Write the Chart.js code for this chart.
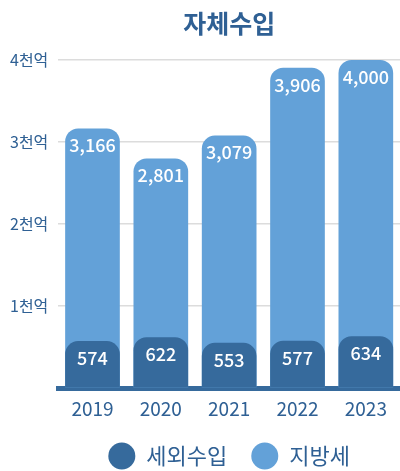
<!DOCTYPE html>
<html>
<head>
<meta charset="utf-8">
<script src="https://cdn.jsdelivr.net/npm/chart.js@4/dist/chart.umd.min.js"></script>
<style>
  html, body { margin: 0; padding: 0; background: #fff; }
  #wrap { width: 400px; height: 471px; position: relative; }
</style>
</head>
<body>
<div id="wrap"><canvas id="c"></canvas></div>
<script>
const categories = ['2019', '2020', '2021', '2022', '2023'];
const nonTaxRevenue = [574, 622, 553, 577, 634];     // 세외수입
const localTax = [3166, 2801, 3079, 3906, 4000];     // 지방세
const seriesNames = ['세외수입', '지방세'];
const yTicks = [1000, 2000, 3000, 4000];
const yTickLabels = ['1천억', '2천억', '3천억', '4천억'];
const titleText = '자체수입';

const FONT = "'Noto Sans CJK KR', 'Noto Sans', sans-serif";
const DARK = '#366a9c';
const LIGHT = '#63a1d8';
const TEXT = '#2f6094';

const valueLabels = {
  id: 'valueLabels',
  afterDatasetsDraw(chart) {
    const ctx = chart.ctx;
    ctx.save();
    ctx.fillStyle = '#ffffff';
    ctx.font = "500 18px " + FONT;
    ctx.textAlign = 'center';
    ctx.textBaseline = 'middle';
    chart.data.datasets.forEach((ds, i) => {
      const meta = chart.getDatasetMeta(i);
      meta.data.forEach((el, j) => {
        ctx.fillText(ds.data[j].toLocaleString('en-US'), el.x, el.y + 17);
      });
    });
    ctx.restore();
  }
};

new Chart(document.getElementById('c'), {
  type: 'bar',
  data: {
    labels: categories,
    datasets: [
      {
        label: seriesNames[0],
        data: nonTaxRevenue,
        backgroundColor: DARK,
        grouped: false,
        borderRadius: 13,
        categoryPercentage: 0.8,
        barPercentage: 1.0
      },
      {
        label: seriesNames[1],
        data: localTax,
        backgroundColor: LIGHT,
        grouped: false,
        borderRadius: 13,
        categoryPercentage: 0.8,
        barPercentage: 1.0
      }
    ]
  },
  options: {
    responsive: true,
    maintainAspectRatio: false,
    animation: false,
    layout: { padding: { left: 0, right: 0, top: 0, bottom: -6 } },
    plugins: {
      tooltip: { enabled: false },
      title: {
        display: true,
        text: titleText,
        fullSize: false,
        color: TEXT,
        font: { family: FONT, size: 25, weight: 'bold' },
        padding: { top: 8, bottom: 22 }
      },
      legend: {
        position: 'bottom',
        fullSize: false,
        labels: {
          usePointStyle: true,
          pointStyle: 'circle',
          boxHeight: 19,
          pointStyleWidth: 27,
          color: TEXT,
          font: { family: FONT, size: 22 },
          padding: 24
        }
      }
    },
    scales: {
      x: {
        grid: { display: false },
        border: { display: true, color: DARK, width: 5 },
        ticks: {
          color: TEXT,
          font: { family: FONT, size: 19 },
          padding: 1
        }
      },
      y: {
        min: 0,
        max: 4000,
        afterBuildTicks(scale) {
          scale.ticks = [0].concat(yTicks).map(v => ({ value: v }));
        },
        grid: { color: '#dcdcdc', lineWidth: 1.5, drawTicks: false },
        border: { display: false },
        ticks: {
          color: TEXT,
          font: { family: FONT, size: 16 },
          padding: 10,
          callback(value) {
            const idx = yTicks.indexOf(value);
            return idx >= 0 ? yTickLabels[idx] : '';
          }
        }
      }
    }
  },
  plugins: [valueLabels]
});
</script>
</body>
</html>
